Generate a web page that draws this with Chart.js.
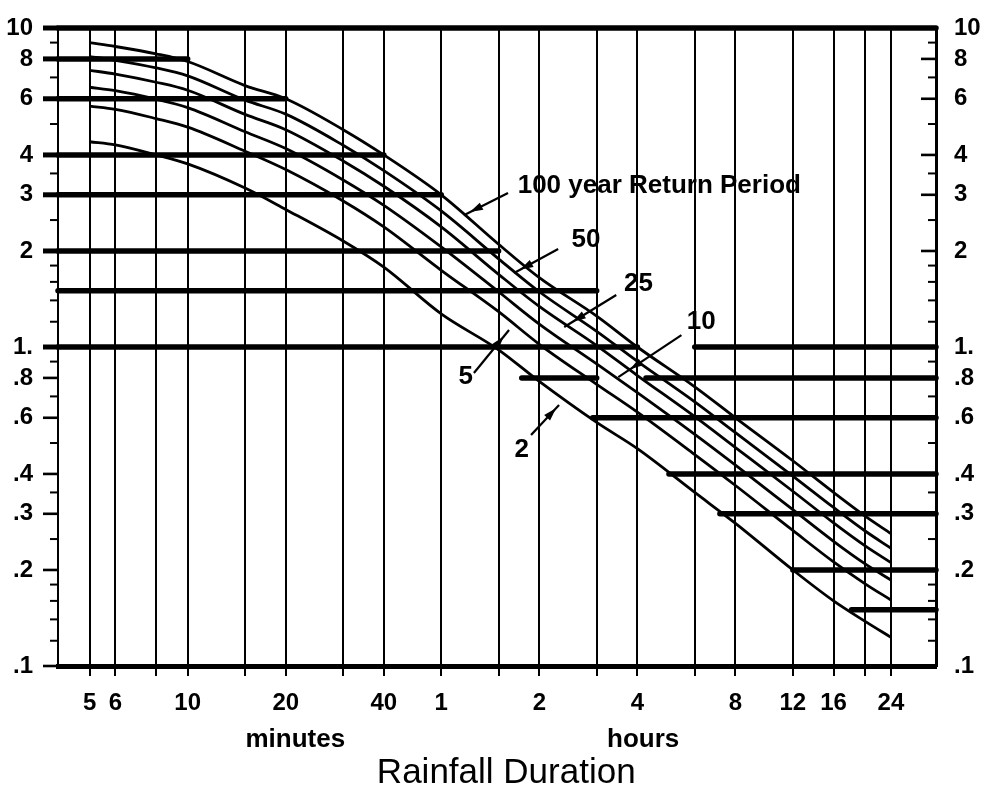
<!DOCTYPE html>
<html><head><meta charset="utf-8">
<script src="https://cdn.jsdelivr.net/npm/chart.js@4/dist/chart.umd.min.js"></script>
<style>html,body{margin:0;padding:0;background:#fff}canvas{display:block}</style>
</head><body>
<canvas id="c" width="981" height="793"></canvas>
<script>
// Rainfall duration (minutes) at which the curves are read
const durations = [5,6,8,10,15,20,30,40,60,90,120,180,240,360,480,720,960,1200,1440];
// Rainfall intensity (in/hr) per return period
const rp100 = [9.0,8.75,8.3,7.85,6.6,6.0,4.8,4.0,3.0,2.1,1.65,1.25,1.0,0.75,0.6,0.44,0.35,0.295,0.26];
const rp50  = [8.14,7.92,7.50,7.08,5.94,5.37,4.29,3.57,2.67,1.89,1.49,1.12,0.902,0.673,0.539,0.394,0.314,0.265,0.234];
const rp25  = [7.37,7.17,6.76,6.38,5.36,4.80,3.83,3.19,2.38,1.69,1.34,1.01,0.814,0.605,0.484,0.353,0.281,0.238,0.211];
const rp10  = [6.52,6.36,5.98,5.63,4.73,4.19,3.34,2.78,2.06,1.49,1.18,0.885,0.719,0.532,0.426,0.309,0.246,0.209,0.186];
const rp5   = [5.69,5.56,5.20,4.89,4.11,3.60,2.87,2.38,1.74,1.29,1.02,0.764,0.625,0.460,0.368,0.266,0.212,0.181,0.161];
const rp2   = [4.4,4.3,4.0,3.75,3.15,2.7,2.15,1.78,1.27,0.98,0.78,0.58,0.48,0.35,0.28,0.2,0.16,0.138,0.123];

// Heavy reference bars: level, start duration, end duration (minutes)
const barLevel = [10, 8, 6, 4, 3, 2, 1.5, 1, 1, 0.8, 0.8, 0.6, 0.4, 0.3, 0.2, 0.15];
const barFrom  = [4, 4, 4, 4, 4, 4, 4, 4, 360, 106, 255, 175, 300, 430, 720, 1090];
const barTo    = [1980, 10, 20, 40, 60, 90, 180, 240, 1980, 180, 1980, 1980, 1980, 1980, 1980, 1980];

// Axes
const xMin = 4, xMax = 1980, yMin = 0.1, yMax = 10;
const xGrid = [5,6,8,10,15,20,30,40,60,90,120,180,240,360,480,720,960,1200,1440];
const xLabelValues = [5,6,10,20,40,60,120,240,480,720,960,1440];
const xLabelText = ['5','6','10','20','40','1','2','4','8','12','16','24'];
const yMajor = [10,8,6,4,3,2,1,0.8,0.6,0.4,0.3,0.2,0.1];
const yMajorText = ['10','8','6','4','3','2','1.','.8','.6','.4','.3','.2','.1'];
const yMinor = [9,7,5,3.5,2.5,1.8,1.6,1.4,1.2,0.9,0.7,0.5,0.35,0.25,0.18,0.16,0.14,0.12];

// Curve labels and leader arrows (data coordinates)
const curveLabels = ['100 year Return Period','50','25','10','5','2'];
const labelX = [103,167,242,377,71.4,106];
const labelY = [3.2,2.165,1.576,1.198,0.805,0.475];
const labelAlign = ['left','center','center','center','center','center'];
const arrowFromX = [96.2,137.1,206.7,327.6,75.6,113.2];
const arrowFromY = [3.04,2.029,1.456,1.09,0.829,0.53];
const arrowToX = [70.4,100.4,143.1,209.7,96.9,138];
const arrowToY = [2.59,1.706,1.155,0.805,1.131,0.658];
const unitText = ['minutes','hours'];
const unitX = [21.4,250];
const axisTitle = 'Rainfall Duration';
const axisTitleX = 95;

const FONT = '"Liberation Sans", Arial, sans-serif';

const datasets = [];
barLevel.forEach((lv,i)=>{
  datasets.push({data:[{x:barFrom[i],y:lv},{x:barTo[i],y:lv}], borderColor:'#000', borderWidth:5.5,
    borderCapStyle:'round', pointRadius:0, clip:false, fill:false});
});
[rp100,rp50,rp25,rp10,rp5,rp2].forEach(s=>{
  datasets.push({data:durations.map((d,i)=>({x:d,y:s[i]})), borderColor:'#000', borderWidth:2.8,
    cubicInterpolationMode:'monotone', pointRadius:0, fill:false, borderCapStyle:'butt'});
});

const overlay = {
  id:'overlay',
  beforeDraw(chart){
    const c = chart.ctx; c.save(); c.fillStyle='#fff'; c.fillRect(0,0,chart.width,chart.height); c.restore();
  },
  afterDraw(chart){
    const c = chart.ctx, x = chart.scales.x, y = chart.scales.y, a = chart.chartArea;
    c.save();
    c.strokeStyle = '#000'; c.fillStyle = '#000'; c.lineCap = 'butt';
    const tick = (v,len,wl,wr)=>{
      const py = y.getPixelForValue(v);
      c.lineWidth = wl; c.beginPath(); c.moveTo(a.left-len,py); c.lineTo(a.left,py); c.stroke();
      c.lineWidth = wr; c.beginPath(); c.moveTo(a.right,py); c.lineTo(a.right-len,py); c.stroke();
    };
    yMajor.forEach(v=>{
      const heavyLeft = barLevel.some((lv,i)=>lv===v && barFrom[i]===xMin);
      tick(v,15,heavyLeft?5:2.6,2.6);
    });
    yMinor.forEach(v=>tick(v,8,2,2));
    // arrows and curve labels
    for (let i=0;i<curveLabels.length;i++){
      const x0=x.getPixelForValue(arrowFromX[i]), y0=y.getPixelForValue(arrowFromY[i]);
      const x1=x.getPixelForValue(arrowToX[i]), y1=y.getPixelForValue(arrowToY[i]);
      c.lineWidth=2.2; c.beginPath(); c.moveTo(x0,y0); c.lineTo(x1,y1); c.stroke();
      const ang=Math.atan2(y1-y0,x1-x0), ca=Math.cos(ang), sa=Math.sin(ang);
      const hx=x0+(x1-x0)*0.72, hy=y0+(y1-y0)*0.72;
      c.beginPath();
      c.moveTo(hx+ca*7,hy+sa*7);
      c.lineTo(hx-ca*6-sa*4,hy-sa*6+ca*4);
      c.lineTo(hx-ca*6+sa*4,hy-sa*6-ca*4);
      c.closePath(); c.fill();
      c.font = 'bold 26px '+FONT; c.textBaseline='middle'; c.textAlign=labelAlign[i];
      c.fillText(curveLabels[i], x.getPixelForValue(labelX[i]), y.getPixelForValue(labelY[i]));
    }
    // unit captions and axis title
    c.font = 'bold 26px '+FONT; c.textAlign='center'; c.textBaseline='middle';
    unitText.forEach((t,i)=>c.fillText(t, x.getPixelForValue(unitX[i]), a.bottom+74));
    c.font = '35px '+FONT;
    c.fillText(axisTitle, x.getPixelForValue(axisTitleX), a.bottom+107);
    c.restore();
  }
};

const tickFont = {family:FONT, size:24, weight:'bold'};
const noPad = (s)=>{ s.paddingTop=0; s.paddingBottom=0; s.paddingLeft=0; s.paddingRight=0; };
new Chart(document.getElementById('c'), {
  type:'line',
  data:{datasets},
  options:{
    responsive:false, animation:false, devicePixelRatio:1,
    layout:{padding:{top:28,left:0,right:0,bottom:0}},
    plugins:{legend:{display:false}, tooltip:{enabled:false}},
    scales:{
      x:{type:'logarithmic', min:xMin, max:xMax, position:'bottom',
        afterBuildTicks(s){ s.ticks = xGrid.map(v=>({value:v})); },
        afterFit(s){ s.height = 127; noPad(s); },
        grid:{color:'#000', lineWidth:2, drawTicks:true, tickLength:10, tickColor:'#000', tickWidth:2},
        border:{display:true, color:'#000', width:5},
        ticks:{autoSkip:false, maxRotation:0, minRotation:0, padding:13, color:'#000', font:tickFont,
          callback:(v)=>{ const k=xLabelValues.indexOf(v); return k<0?'':xLabelText[k]; }}
      },
      y:{type:'logarithmic', min:yMin, max:yMax, position:'left',
        afterBuildTicks(s){ s.ticks = yMajor.map(v=>({value:v})); },
        afterFit(s){ s.width = 58; noPad(s); },
        grid:{display:false, drawTicks:false},
        border:{display:true, color:'#000', width:2},
        ticks:{autoSkip:false, padding:25, color:'#000', font:tickFont,
          callback:(v)=>{ const k=yMajor.indexOf(v); return k<0?'':yMajorText[k]; }}
      },
      y2:{type:'logarithmic', min:yMin, max:yMax, position:'right',
        afterBuildTicks(s){ s.ticks = yMajor.map(v=>({value:v})); },
        afterFit(s){ s.width = 45; noPad(s); },
        grid:{display:false, drawTicks:false},
        border:{display:true, color:'#000', width:3},
        ticks:{autoSkip:false, padding:18, color:'#000', font:tickFont,
          callback:(v)=>{ const k=yMajor.indexOf(v); return k<0?'':yMajorText[k]; }}
      }
    }
  },
  plugins:[overlay]
});
</script>
</body></html>
